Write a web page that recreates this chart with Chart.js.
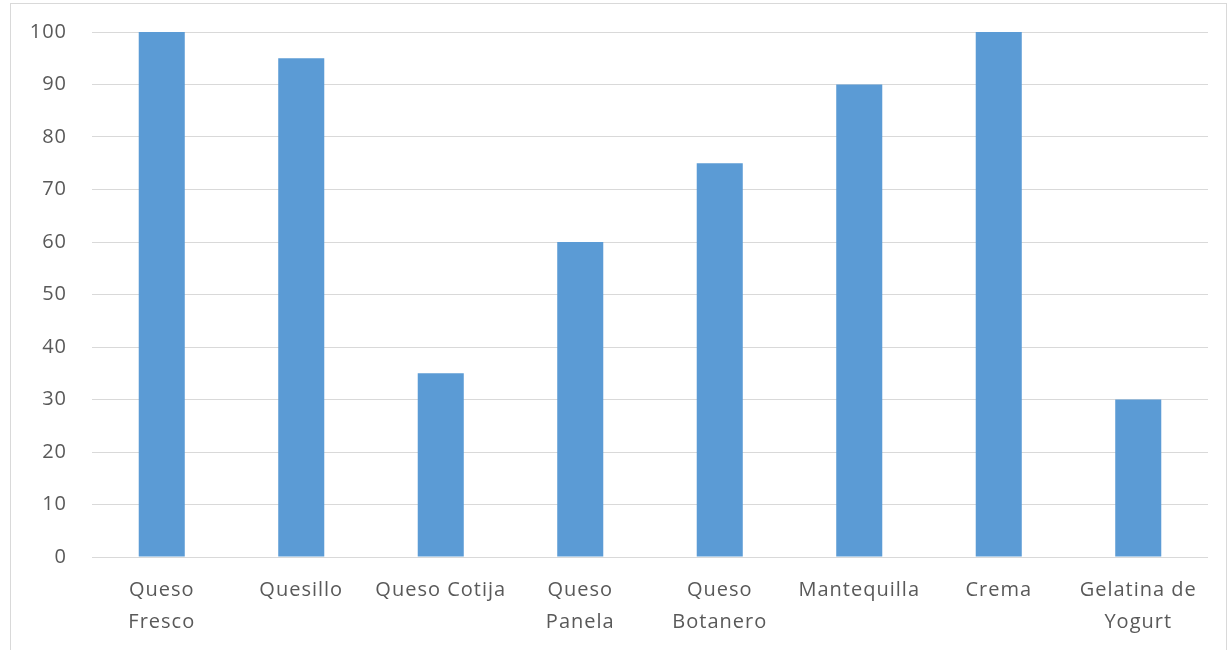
<!DOCTYPE html>
<html>
<head>
<meta charset="utf-8">
<script src="https://cdn.jsdelivr.net/npm/chart.js@4/dist/chart.umd.min.js"></script>
<style>
  html, body { margin: 0; padding: 0; background: #fff; }
  #wrap { position: relative; width: 1229px; height: 650px; overflow: hidden; }
  #frame { position: absolute; left: 10px; top: 3px; width: 1217px; height: 700px; border: 1px solid #d9d9d9; box-sizing: border-box; }
  canvas { position: absolute; left: 0; top: 0; }
</style>
</head>
<body>
<div id="wrap">
  <div id="frame"></div>
  <canvas id="c" width="1229" height="650"></canvas>
</div>
<script>
const categories = [
  ["Queso", "Fresco"],
  "Quesillo",
  "Queso Cotija",
  ["Queso", "Panela"],
  ["Queso", "Botanero"],
  "Mantequilla",
  "Crema",
  ["Gelatina de", "Yogurt"]
];
const values = [100, 95, 35, 60, 75, 90, 100, 30];
const yTicks = [0, 10, 20, 30, 40, 50, 60, 70, 80, 90, 100];

const textColor = '#595959';
const gridColor = '#d9d9d9';
const barColor = '#5b9bd5';

// Slightly open letter spacing for all axis text
const spacing = {
  id: 'spacing',
  beforeLayout(chart) { chart.ctx.letterSpacing = '1px'; },
  beforeDraw(chart) { chart.ctx.letterSpacing = '1px'; }
};

new Chart(document.getElementById('c'), {
  type: 'bar',
  plugins: [spacing],
  data: {
    labels: categories,
    datasets: [{
      data: values,
      backgroundColor: barColor,
      borderWidth: 0,
      categoryPercentage: 1,
      barPercentage: 0.33
    }]
  },
  options: {
    responsive: false,
    animation: false,
    devicePixelRatio: 1,
    layout: { padding: { top: 32, right: 21, bottom: 0, left: 0 } },
    plugins: { legend: { display: false }, tooltip: { enabled: false } },
    scales: {
      x: {
        grid: { display: false, drawTicks: false },
        border: { display: false },
        ticks: {
          color: textColor,
          font: { family: 'Open Sans', size: 20, lineHeight: 1.6 },
          padding: 17,
          maxRotation: 0,
          autoSkip: false
        },
        afterFit: (s) => { s.height = 93; s.paddingLeft = 0; s.paddingRight = 0; }
      },
      y: {
        min: 0,
        max: 100,
        afterBuildTicks: (s) => { s.ticks = yTicks.map(v => ({ value: v })); },
        grid: { color: gridColor, lineWidth: 1, drawTicks: false },
        border: { display: false },
        ticks: {
          color: textColor,
          font: { family: 'Open Sans', size: 20 },
          padding: 25
        },
        afterFit: (s) => { s.width = 92; s.paddingTop = 0; s.paddingBottom = 0; }
      }
    }
  }
});
</script>
</body>
</html>
